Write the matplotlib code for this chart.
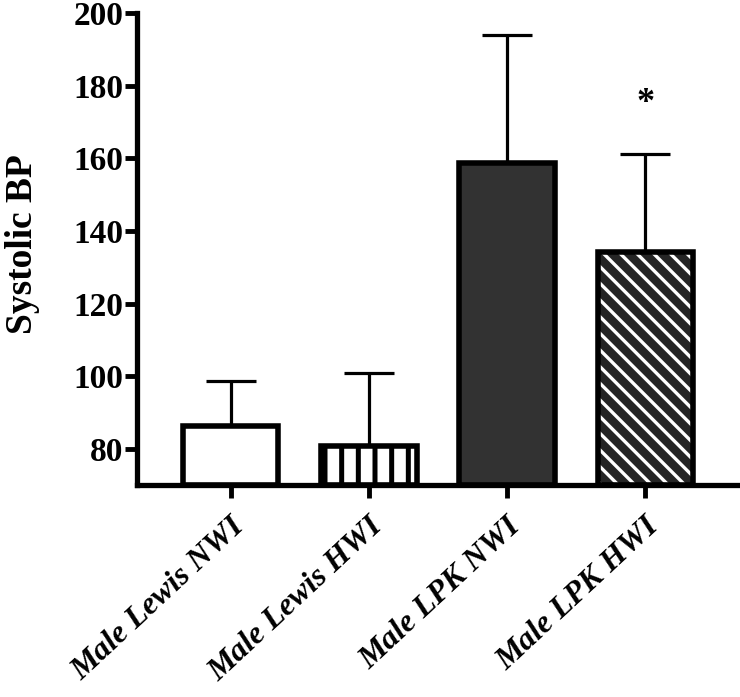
import numpy as np
import matplotlib
matplotlib.use("Agg")
import matplotlib.pyplot as plt
import matplotlib.transforms as mtransforms

# ── Data ───────────────────────────────────────────────────────────────────────
groups    = ["Male Lewis NWI", "Male Lewis HWI", "Male LPK NWI", "Male LPK HWI"]
means     = [86.3, 80.8, 158.8, 134.1]
upper_err = [12.4, 20.1, 35.2, 27.2]
star_y    = 175.0

face      = ["white", "white", "#323232", "#252525"]
hatches   = [None, "|", None, "\\\\"]
hatch_col = [None, "black", None, "white"]
hatch_lw  = [None, 3.6, None, 2.4]

plt.rcParams["font.family"] = ["Liberation Serif", "DejaVu Serif"]
plt.rcParams["font.weight"] = "bold"

fig = plt.figure(figsize=(7.40, 6.97), dpi=100)
ax = fig.add_axes([0.185, 0.304, 0.812, 0.677])

x = np.arange(len(groups))
width = 0.69

for i in range(len(groups)):
    if hatches[i]:
        with plt.rc_context({"hatch.linewidth": hatch_lw[i]}):
            ax.bar(x[i], means[i] - 70, bottom=70, width=width, color=face[i],
                   edgecolor=hatch_col[i], hatch=hatches[i], linewidth=0, zorder=2)
    else:
        ax.bar(x[i], means[i] - 70, bottom=70, width=width, color=face[i],
               linewidth=0, zorder=2)
    ax.bar(x[i], means[i] - 70, bottom=70, width=width, facecolor="none",
           edgecolor="black", linewidth=4, zorder=3)

ax.errorbar(x, means, yerr=[np.zeros(len(x)), upper_err], fmt="none",
            ecolor="black", elinewidth=2.3, capsize=18, capthick=2.3, zorder=1)

ax.text(x[3], star_y, "*", ha="center", va="center", fontsize=26,
        fontweight="bold")

ax.set_xlim(-0.68, 3.67)
ax.set_ylim(70, 200)
ax.set_yticks([80, 100, 120, 140, 160, 180, 200])
ax.set_xticks(x)
ax.set_xticklabels(groups, rotation=43, ha="right", va="top",
                   rotation_mode="anchor", fontsize=23, fontweight="bold",
                   fontstyle="italic")
shift = mtransforms.ScaledTranslation(-10 / 100, 6 / 100, fig.dpi_scale_trans)
for lab in ax.get_xticklabels():
    lab.set_transform(lab.get_transform() + shift)

fig.text(0.03, 0.65, "Systolic BP", rotation=90, ha="center", va="center",
         fontsize=27, fontweight="bold")

for s in ["top", "right"]:
    ax.spines[s].set_visible(False)
for s in ["left", "bottom"]:
    ax.spines[s].set_linewidth(3.8)
ax.tick_params(axis="both", width=3.5, length=9)
ax.tick_params(axis="y", labelsize=24, pad=1)
ax.tick_params(axis="x", pad=10)
for lab in ax.get_yticklabels():
    lab.set_fontweight("bold")

fig.savefig("out.png", dpi=100)
